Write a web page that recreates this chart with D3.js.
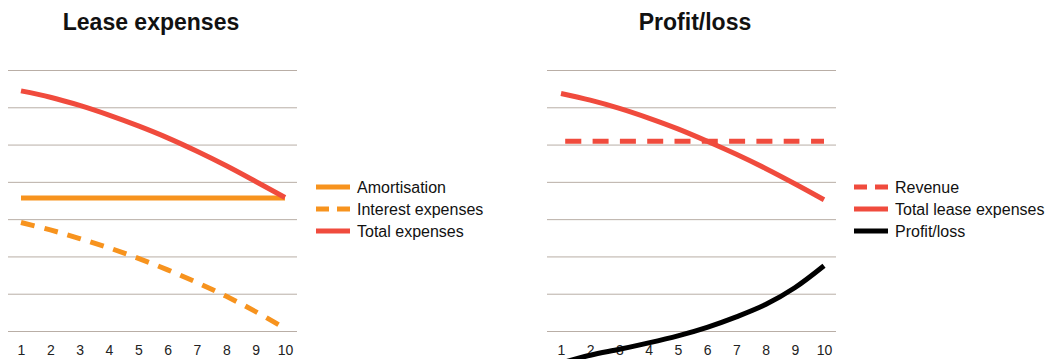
<!DOCTYPE html>
<html>
<head>
<meta charset="utf-8">
<script src="https://cdn.jsdelivr.net/npm/d3@7"></script>
<style>
  body { margin: 0; background: #fff; }
  svg { display: block; font-family: "Liberation Sans", Arial, Helvetica, sans-serif; }
</style>
</head>
<body>
<svg id="chart"></svg>
<script>
const width = 1048;
const height = 359;

// years on the x axis
const years = [1, 2, 3, 4, 5, 6, 7, 8, 9, 10];
const gridValues = [0, 10, 20, 30, 40, 50, 60, 70];

// left panel: lease expenses
const amortisation = [35.7, 35.7, 35.7, 35.7, 35.7, 35.7, 35.7, 35.7, 35.7, 35.7];
const interestExpenses = [29.1, 27.1, 24.8, 22.3, 19.5, 16.4, 13.0, 9.3, 5.2, 0.7];
const totalExpenses = [64.4, 62.7, 60.5, 57.9, 55.0, 51.8, 48.2, 44.3, 40.1, 35.8];

// right panel: profit/loss
const revenue = [50.9, 50.9, 50.9, 50.9, 50.9, 50.9, 50.9, 50.9, 50.9, 50.9];
const totalLeaseExpenses = [63.7, 61.9, 59.7, 57.1, 54.2, 50.9, 47.4, 43.6, 39.5, 35.2];
const profitLoss = [-8.6, -6.5, -4.9, -3.2, -1.3, 1.0, 3.8, 7.1, 11.6, 17.5];

const RED = "#f04b3d";
const ORANGE = "#f7931e";

const svg = d3.select("#chart")
  .attr("width", width)
  .attr("height", height);

const y = d3.scaleLinear().domain([0, 70]).range([331, 70]);

function drawPanel(opts) {
  const g = svg.append("g");
  const x = d3.scaleLinear().domain([1, 10]).range(opts.xRange);

  g.append("text")
    .attr("x", opts.titleX)
    .attr("y", 30)
    .attr("text-anchor", "middle")
    .attr("font-size", 23)
    .attr("font-weight", "bold")
    .attr("fill", "#111")
    .text(opts.title);

  g.selectAll("line.grid")
    .data(gridValues)
    .enter()
    .append("line")
    .attr("class", "grid")
    .attr("x1", opts.gridRange[0])
    .attr("x2", opts.gridRange[1])
    .attr("y1", d => y(d) + 0.5)
    .attr("y2", d => y(d) + 0.5)
    .attr("stroke", "#b9aea6")
    .attr("stroke-width", 1);

  // x tick labels
  const axis = d3.axisBottom(x).tickValues(years).tickSize(0).tickPadding(0);
  const ax = g.append("g")
    .attr("transform", "translate(0,345)")
    .call(axis);
  ax.select(".domain").remove();
  ax.selectAll("text")
    .attr("font-size", 14)
    .attr("fill", "#222")
    .attr("font-family", "Liberation Sans, Arial, sans-serif");

  const line = d3.line()
    .x((d, i) => x(years[i]))
    .y(d => y(d))
    .curve(d3.curveCatmullRom);

  opts.series.forEach(s => {
    g.append("path")
      .attr("d", line(s.values))
      .attr("fill", "none")
      .attr("stroke", s.color)
      .attr("stroke-width", 5)
      .attr("stroke-dasharray", s.dash || null)
      .attr("stroke-dashoffset", s.dashOffset || 0);
  });

  // legend
  const leg = g.append("g")
    .attr("transform", `translate(${opts.legendX},187)`);
  const rows = leg.selectAll("g")
    .data(opts.legendOrder)
    .enter()
    .append("g")
    .attr("transform", (d, i) => `translate(0,${i * 22})`);
  rows.append("line")
    .attr("x1", 0)
    .attr("x2", 34)
    .attr("stroke", d => d.color)
    .attr("stroke-width", 5)
    .attr("stroke-dasharray", d => d.dash ? "13,8" : null);
  rows.append("text")
    .attr("x", 41)
    .attr("dy", "0.35em")
    .attr("font-size", 16)
    .attr("fill", "#111")
    .text(d => d.name);
}

const leftSeries = [
  { name: "Amortisation", values: amortisation, color: ORANGE },
  { name: "Interest expenses", values: interestExpenses, color: ORANGE, dash: "14,10" },
  { name: "Total expenses", values: totalExpenses, color: RED }
];

drawPanel({
  title: "Lease expenses",
  titleX: 151,
  xRange: [21, 285],
  gridRange: [8, 297],
  series: leftSeries,
  legendOrder: leftSeries,
  legendX: 316
});

const rightSeries = [
  { name: "Revenue", values: revenue, color: RED, dash: "16,11.3", dashOffset: 23 },
  { name: "Total lease expenses", values: totalLeaseExpenses, color: RED },
  { name: "Profit/loss", values: profitLoss, color: "#000" }
];

drawPanel({
  title: "Profit/loss",
  titleX: 695,
  xRange: [561, 824],
  gridRange: [547, 836],
  series: rightSeries,
  legendOrder: rightSeries,
  legendX: 854
});
</script>
</body>
</html>
